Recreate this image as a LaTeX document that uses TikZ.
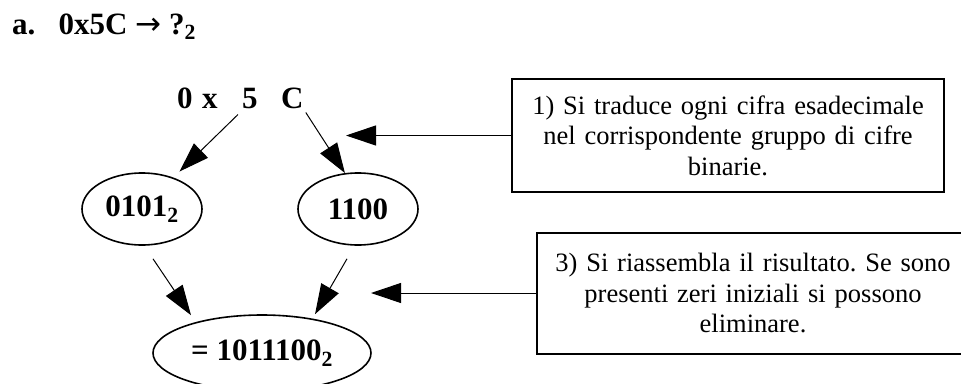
\documentclass[tikz,border=0pt]{standalone}
\usepackage{fontspec}
\setmainfont{Liberation Serif}
\newfontfamily\arrowfont{DejaVu Sans}
\usetikzlibrary{arrows.meta, positioning, shapes.geometric}
\frenchspacing

\begin{document}
\begin{tikzpicture}[
    x=1pt, y=-1pt,
    bigtext/.style={font=\fontsize{31}{37}\selectfont\bfseries, inner sep=0pt, anchor=base west},
    group/.style={ellipse, draw, line width=1.6pt, inner sep=0pt, font=\fontsize{31}{37}\selectfont\bfseries, minimum width=120pt, minimum height=72pt},
    note/.style={rectangle, draw, line width=2pt, align=center, text width=420pt, inner xsep=6pt, font=\fontsize{26.5}{30.5}\selectfont, minimum height=113pt},
    arrow/.style={-{Triangle[length=30pt, width=20pt]}, line width=1pt}
]

% Background
\useasboundingbox (0,0) rectangle (961,383);
\fill[white] (0,0) rectangle (961,383);

% Title
\node[bigtext] (title) at (12,34) {a.\hspace{0.75em}0x5C {\arrowfont\mdseries →} ?\textsubscript{2}};

% Hex digits
\node[bigtext] (d0) at (177,108) {0};
\node[bigtext] (dx) at (202,108) {x};
\node[bigtext] (d5) at (242,108) {5};
\node[bigtext] (dC) at (281,108) {C};

% Binary groups
\node[group] (g0101) at (142,209) {0101\textsubscript{2}};
\node[group] (g1100) at (358,209) {1100};

% Result
\node[group, minimum width=218pt, minimum height=76pt] (result) at (262,353) {= 1011100\textsubscript{2}};

% Notes
\node[note] (note1) at (728,135.5) {1) Si traduce ogni cifra esadecimale\\nel corrispondente gruppo di cifre\\binarie.};
\node[note, minimum height=121pt] (note3) at (753,293) {3) Si riassembla il risultato. Se sono\\presenti zeri iniziali si possono\\eliminare.};

\coordinate (tip1) at (346,135.5);
\coordinate (tip3) at (371,293);

% Connections
\draw[arrow] ([shift={(-4,6)}]d5.south west) -- ([shift={(6,-6)}]g0101.45);
\draw[arrow] ([shift={(2,4)}]dC.south east) -- (g1100.110);
\draw[arrow] ([shift={(11,13)}]g0101.south) -- ([shift={(-71,1)}]result.north);
\draw[arrow] ([shift={(-11,13)}]g1100.south) -- ([shift={(53,0)}]result.north);
\draw[arrow] (note1) -- (tip1);
\draw[arrow] (note3) -- (tip3);

\end{tikzpicture}
\end{document}
